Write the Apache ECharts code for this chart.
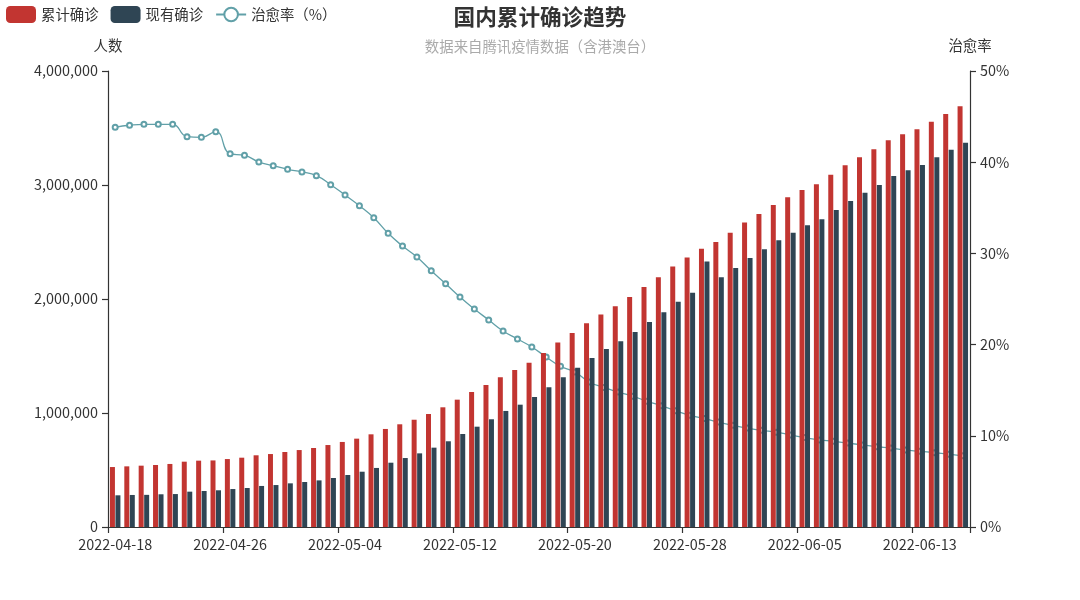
<!DOCTYPE html>
<html>
<head>
<meta charset="utf-8">
<script src="https://cdn.jsdelivr.net/npm/echarts@6/dist/echarts.min.js"></script>
<style>
html,body{margin:0;padding:0;background:#fff;}
#chart{width:1080px;height:600px;}
</style>
</head>
<body>
<div id="chart"></div>
<script>
const dates = [
  '2022-04-18','2022-04-19','2022-04-20','2022-04-21','2022-04-22','2022-04-23','2022-04-24','2022-04-25','2022-04-26','2022-04-27',
  '2022-04-28','2022-04-29','2022-04-30','2022-05-01','2022-05-02','2022-05-03','2022-05-04','2022-05-05','2022-05-06','2022-05-07',
  '2022-05-08','2022-05-09','2022-05-10','2022-05-11','2022-05-12','2022-05-13','2022-05-14','2022-05-15','2022-05-16','2022-05-17',
  '2022-05-18','2022-05-19','2022-05-20','2022-05-21','2022-05-22','2022-05-23','2022-05-24','2022-05-25','2022-05-26','2022-05-27',
  '2022-05-28','2022-05-29','2022-05-30','2022-05-31','2022-06-01','2022-06-02','2022-06-03','2022-06-04','2022-06-05','2022-06-06',
  '2022-06-07','2022-06-08','2022-06-09','2022-06-10','2022-06-11','2022-06-12','2022-06-13','2022-06-14','2022-06-15','2022-06-16'
];
const cumulativeConfirmed = [
  526000,532000,538000,544000,553000,573000,582000,584000,596000,608000,
  629000,640000,658000,675000,693000,719000,746000,775000,813000,860000,
  901000,941000,991000,1050000,1117000,1184000,1246000,1313000,1377000,1441000,
  1526000,1618000,1702000,1787000,1865000,1936000,2018000,2105000,2190000,2284000,
  2365000,2441000,2500000,2582000,2670000,2746000,2825000,2892000,2956000,3006000,
  3091000,3173000,3243000,3313000,3392000,3445000,3489000,3555000,3623000,3690000
];
const currentConfirmed = [
  278000,281000,282000,287000,289000,310000,316000,322000,333000,342000,
  360000,368000,383000,395000,409000,430000,456000,485000,518000,564000,
  605000,646000,696000,752000,816000,880000,945000,1018000,1073000,1140000,
  1225000,1313000,1397000,1482000,1561000,1630000,1711000,1798000,1883000,1976000,
  2055000,2330000,2190000,2272000,2360000,2436000,2515000,2582000,2646000,2699000,
  2781000,2860000,2933000,3000000,3079000,3129000,3175000,3243000,3310000,3371000
];
const cureRate = [
  43.83,44.05,44.15,44.15,44.15,42.8,42.73,43.35,40.93,40.75,
  40.02,39.62,39.22,38.93,38.52,37.53,36.4,35.23,33.91,32.2,
  30.81,29.61,28.1,26.68,25.22,23.9,22.7,21.49,20.61,19.74,
  18.64,17.62,17.0,15.9,15.3,14.8,14.35,13.8,13.3,12.75,
  12.25,11.9,11.5,11.15,10.85,10.6,10.4,10.1,9.8,9.55,
  9.4,9.2,9.0,8.8,8.65,8.45,8.3,8.15,7.98,7.8
];
const leftTicks = { min: 0, max: 4000000, interval: 1000000 };
const rightTicks = { min: 0, max: 50, interval: 10 };

const FONT = '"Noto Sans CJK SC", "Noto Sans", sans-serif';
const chart = echarts.init(document.getElementById('chart'));
const axisCommon = {
  axisLine: { show: true, lineStyle: { color: '#333', width: 1.2 } },
  axisTick: { show: true, length: 6, lineStyle: { color: '#333', width: 1.2 } },
  axisLabel: { color: '#333', fontSize: 14.4, fontFamily: FONT, margin: 10 },
  splitLine: { show: false },
  nameTextStyle: { color: '#333', fontSize: 14.4, fontFamily: FONT },
  nameGap: 18
};
chart.setOption({
  animation: false,
  textStyle: { fontFamily: FONT },
  title: {
    text: '国内累计确诊趋势',
    subtext: '数据来自腾讯疫情数据（含港澳台）',
    left: 'center',
    top: 0,
    padding: 6,
    itemGap: 12,
    textStyle: { color: '#333', fontSize: 21.6, fontWeight: 'bold', fontFamily: FONT },
    subtextStyle: { color: '#aaa', fontSize: 14.4, fontFamily: FONT }
  },
  legend: {
    left: 6,
    top: 6,
    padding: 0,
    itemWidth: 30,
    itemHeight: 17,
    itemGap: 12,
    textStyle: { color: '#333', fontSize: 14.4, fontFamily: FONT },
    data: ['累计确诊', '现有确诊', '治愈率（%）']
  },
  grid: { left: 108, right: 110, top: 71, bottom: 73, containLabel: false },
  xAxis: {
    type: 'category',
    data: dates,
    boundaryGap: true,
    ...axisCommon,
    axisLabel: { ...axisCommon.axisLabel, interval: 7 },
    axisTick: { ...axisCommon.axisTick, interval: 7 }
  },
  yAxis: [
    {
      type: 'value',
      name: '人数',
      position: 'left',
      min: leftTicks.min, max: leftTicks.max, interval: leftTicks.interval,
      ...axisCommon
    },
    {
      type: 'value',
      name: '治愈率',
      position: 'right',
      min: rightTicks.min, max: rightTicks.max, interval: rightTicks.interval,
      ...axisCommon,
      axisLabel: { ...axisCommon.axisLabel, formatter: '{value}%' }
    }
  ],
  series: [
    {
      name: '累计确诊',
      type: 'bar',
      data: cumulativeConfirmed,
      itemStyle: { color: '#c23531' },
      z: 3
    },
    {
      name: '现有确诊',
      type: 'bar',
      data: currentConfirmed,
      itemStyle: { color: '#2f4554' },
      z: 3
    },
    {
      name: '治愈率（%）',
      type: 'line',
      yAxisIndex: 1,
      data: cureRate,
      smooth: true,
      symbol: 'emptyCircle',
      symbolSize: 5,
      itemStyle: { color: '#61a0a8' },
      lineStyle: { color: '#61a0a8', width: 1.3 },
      z: 1
    }
  ]
});
</script>
</body>
</html>
